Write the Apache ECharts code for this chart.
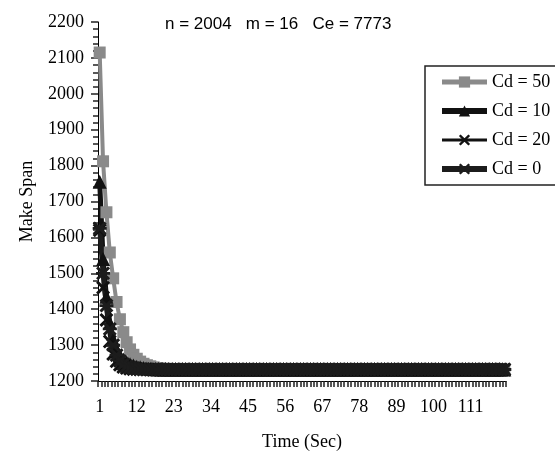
<!DOCTYPE html>
<html>
<head>
<meta charset="utf-8">
<script src="https://cdn.jsdelivr.net/npm/echarts@6/dist/echarts.min.js"></script>
<style>html,body{margin:0;padding:0;background:#fff;}#c{width:555px;height:456px;}</style>
</head>
<body>
<div id="c"></div>
<script>
// Time categories 1..121
const categories = [];
for (let i = 1; i <= 121; i++) categories.push(String(i));

const yTicks = [1200, 1300, 1400, 1500, 1600, 1700, 1800, 1900, 2000, 2100, 2200];
const titleText = 'n = 2004   m = 16   Ce = 7773';
const seriesNames = ['Cd = 50', 'Cd = 10', 'Cd = 20', 'Cd = 0'];

const cd50 = [
2115,1812,1670,1558,1486,1420,1372,1336,1308,1288,
1273,1262,1254,1248,1244,1241,1238,1236,1235,1234,
1233,1233,1232,1232,1232,1232,1232,1232,1232,1232,
1232,1232,1232,1232,1232,1232,1232,1232,1232,1232,
1232,1232,1232,1232,1232,1232,1232,1232,1232,1232,
1232,1232,1232,1232,1232,1232,1232,1232,1232,1232,
1232,1232,1232,1232,1232,1232,1232,1232,1232,1232,
1232,1232,1232,1232,1232,1232,1232,1232,1232,1232,
1232,1232,1232,1232,1232,1232,1232,1232,1232,1232,
1232,1232,1232,1232,1232,1232,1232,1232,1232,1232,
1232,1232,1232,1232,1232,1232,1232,1232,1232,1232,
1232,1232,1232,1232,1232,1232,1232,1232,1232,1232,
1232];

const cd10 = [
1755,1540,1435,1362,1315,1288,1270,1260,1252,1247,
1243,1240,1238,1236,1235,1234,1233,1233,1232,1232,
1232,1232,1232,1232,1232,1232,1232,1232,1232,1232,
1232,1232,1232,1232,1232,1232,1232,1232,1232,1232,
1232,1232,1232,1232,1232,1232,1232,1232,1232,1232,
1232,1232,1232,1232,1232,1232,1232,1232,1232,1232,
1232,1232,1232,1232,1232,1232,1232,1232,1232,1232,
1232,1232,1232,1232,1232,1232,1232,1232,1232,1232,
1232,1232,1232,1232,1232,1232,1232,1232,1232,1232,
1232,1232,1232,1232,1232,1232,1232,1232,1232,1232,
1232,1232,1232,1232,1232,1232,1232,1232,1232,1232,
1232,1232,1232,1232,1232,1232,1232,1232,1232,1232,
1232];

const cd20 = [
1620,1460,1370,1310,1275,1255,1245,1239,1236,1234,
1233,1233,1232,1232,1232,1232,1232,1232,1232,1232,
1232,1232,1232,1232,1232,1232,1232,1232,1232,1232,
1232,1232,1232,1232,1232,1232,1232,1232,1232,1232,
1232,1232,1232,1232,1232,1232,1232,1232,1232,1232,
1232,1232,1232,1232,1232,1232,1232,1232,1232,1232,
1232,1232,1232,1232,1232,1232,1232,1232,1232,1232,
1232,1232,1232,1232,1232,1232,1232,1232,1232,1232,
1232,1232,1232,1232,1232,1232,1232,1232,1232,1232,
1232,1232,1232,1232,1232,1232,1232,1232,1232,1232,
1232,1232,1232,1232,1232,1232,1232,1232,1232,1232,
1232,1232,1232,1232,1232,1232,1232,1232,1232,1232,
1232];

const cd0 = [
1625,1500,1410,1345,1300,1272,1256,1247,1241,1238,
1236,1234,1233,1233,1232,1232,1232,1232,1232,1232,
1232,1232,1232,1232,1232,1232,1232,1232,1232,1232,
1232,1232,1232,1232,1232,1232,1232,1232,1232,1232,
1232,1232,1232,1232,1232,1232,1232,1232,1232,1232,
1232,1232,1232,1232,1232,1232,1232,1232,1232,1232,
1232,1232,1232,1232,1232,1232,1232,1232,1232,1232,
1232,1232,1232,1232,1232,1232,1232,1232,1232,1232,
1232,1232,1232,1232,1232,1232,1232,1232,1232,1232,
1232,1232,1232,1232,1232,1232,1232,1232,1232,1232,
1232,1232,1232,1232,1232,1232,1232,1232,1232,1232,
1232,1232,1232,1232,1232,1232,1232,1232,1232,1232,
1232];

const serif = '"Liberation Serif", "Times New Roman", serif';
const xSym = 'path://M0,1.5 L1.5,0 L5,3.5 L8.5,0 L10,1.5 L6.5,5 L10,8.5 L8.5,10 L5,6.5 L1.5,10 L0,8.5 L3.5,5 Z';
const starSym = 'path://M0,1.5 L1.5,0 L5,3.5 L8.5,0 L10,1.5 L6.5,5 L10,8.5 L8.5,10 L5,6.5 L1.5,10 L0,8.5 L3.5,5 Z M0,4 L10,4 L10,6 L0,6 Z';

const colors = ['#8a8a8a', '#111', '#111', '#1c1c1c'];
const widths = [4, 5, 2, 5];
const symbols = ['rect', 'triangle', xSym, starSym];
const sizes = [12, 14, 14, 14];
const dataSets = [cd50, cd10, cd20, cd0];

const chart = echarts.init(document.getElementById('c'));
chart.setOption({
  animation: false,
  title: {
    text: titleText, left: 160, top: 11,
    textStyle: {fontFamily: '"Liberation Sans", Arial, sans-serif', fontSize: 17, fontWeight: 'normal', color: '#000'}
  },
  legend: {
    orient: 'vertical', left: 425, top: 66,
    data: seriesNames.map((n, i) => ({name: n, lineStyle: {width: widths[i] + 1}})),
    itemWidth: 45, itemHeight: 14, itemGap: 9,
    padding: [6, 12, 6, 14],
    borderColor: '#222', borderWidth: 1.5,
    textStyle: {fontFamily: serif, fontSize: 18, color: '#000', lineHeight: 20}
  },
  grid: {left: 98, right: 49, top: 22, bottom: 74},
  xAxis: {
    type: 'category', data: categories,
    name: 'Time (Sec)', nameLocation: 'middle', nameGap: 52,
    nameTextStyle: {fontFamily: serif, fontSize: 18, color: '#000'},
    axisLine: {show: true, lineStyle: {color: '#000', width: 1}},
    axisTick: {show: true, interval: 0, length: 6, lineStyle: {color: '#222', width: 1.5}},
    axisLabel: {
      interval: function (idx) { return idx % 11 === 0; },
      margin: 17, fontFamily: serif, fontSize: 18, color: '#000'
    },
    splitLine: {show: false}
  },
  yAxis: {
    type: 'value', min: yTicks[0], max: yTicks[yTicks.length - 1], interval: 100,
    name: 'Make Span', nameLocation: 'middle', nameGap: 62, nameRotate: 90,
    nameTextStyle: {fontFamily: serif, fontSize: 18, color: '#000'},
    axisLine: {show: true, lineStyle: {color: '#000', width: 1}},
    axisTick: {show: true, length: 7, lineStyle: {color: '#222', width: 1.5}},
    minorTick: {show: true, splitNumber: 5, length: 5, lineStyle: {color: '#222', width: 1.5}},
    axisLabel: {margin: 14, fontFamily: serif, fontSize: 18, color: '#000',
      formatter: function (v) { return String(v); }},
    splitLine: {show: false}
  },
  series: seriesNames.map((n, i) => ({
    name: n, type: 'line', data: dataSets[i],
    symbol: symbols[i], symbolSize: sizes[i], showAllSymbol: true,
    lineStyle: {color: colors[i], width: widths[i]},
    itemStyle: {color: colors[i]}
  }))
});
</script>
</body>
</html>
